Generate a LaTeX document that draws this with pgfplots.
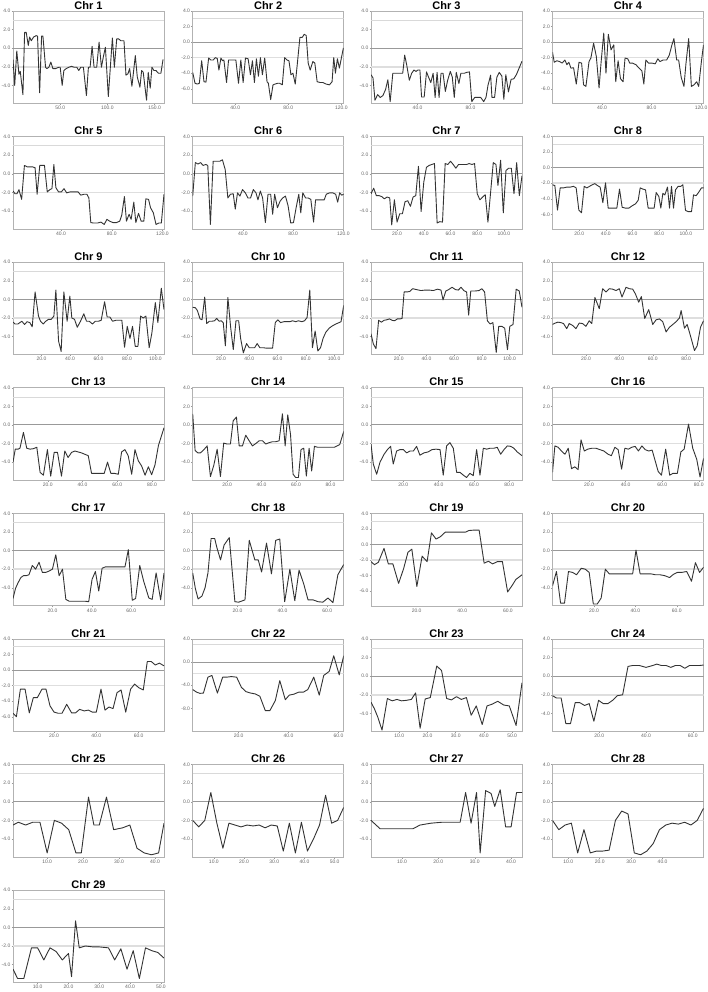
\documentclass[border=0pt]{standalone}
\usepackage{fontspec}
\setmainfont{Liberation Sans}
\usepackage{pgfplots}
\pgfplotsset{compat=1.18}

\pgfplotsset{
  chr/.style={
    anchor=north west, scale only axis, width=151pt, height=92.5pt,
    ymax=4,
    axis line style={black!30, line width=0.8pt},
    tick align=outside, tick pos=left, major tick length=1.5pt,
    tick style={black!40, line width=0.4pt},
    tick label style={font=\fontsize{5}{6}\selectfont, text=black!60, inner sep=1pt},
    /pgf/number format/fixed, /pgf/number format/fixed zerofill,
    /pgf/number format/precision=1, /pgf/number format/assume math mode=true,
    every axis title shift=0pt,
    title style={font=\bfseries\fontsize{11}{12}\selectfont, inner sep=0pt, yshift=1.5pt},
  },
  yA/.style={ymin=-5.95, ytick={-4,-2,0,2,4}},
  yB/.style={ymin=-7.9, ytick={-6,-4,-2,0,2,4}},
  yC/.style={ymin=-12, ytick={-8,-4,0,4}},
  dl/.style={black!80, line width=0.9pt, mark=none, line join=round},
}

% threshold lines at 3, 0 and -2
\newcommand{\reflines}{%
  \draw[black!15, line width=0.9pt] ({rel axis cs:0,0}|-{axis cs:0,3}) -- ({rel axis cs:1,0}|-{axis cs:0,3});
  \draw[black!40, line width=1pt] ({rel axis cs:0,0}|-{axis cs:0,0}) -- ({rel axis cs:1,0}|-{axis cs:0,0});
  \draw[black!13, line width=1.6pt] ({rel axis cs:0,0}|-{axis cs:0,-2}) -- ({rel axis cs:1,0}|-{axis cs:0,-2});
}

\begin{document}
\begin{tikzpicture}

% ---------- row 1
\begin{axis}[chr, yA, at={(13pt,-11pt)}, title={Chr 1}, xmin=0, xmax=160, xtick={50,100,150}]
\reflines
\addplot[dl] coordinates {(0,-1.2)(1.8,-4.0)(4,-0.3)(6.3,-2.8)(7.7,-2.5)(10.5,-5.0)(12.3,1.7)(14,1.7)(16.2,0.3)(17.6,1.2)(19.4,0.8)(21.8,1.2)(24.6,1.35)(26,1.3)(28.2,-4.8)(30.3,1.3)(31.7,1.3)(34.5,-2.05)(35.9,-2.2)(38,-2.05)(40.1,-1.5)(42.3,-2.2)(45,-2.2)(48.6,-2.05)(50,-2.05)(52.1,-4.0)(53.9,-2.4)(56.3,-2.2)(59.2,-2.05)(62,-1.95)(64.8,-2.05)(67.6,-2.05)(69.7,-2.4)(71.8,-2.05)(74.6,-2.05)(77.8,-5.1)(79.9,-2.05)(81.7,-2.05)(83.8,0.2)(85.9,-2.05)(88.7,-2.05)(91.2,0.65)(93.7,-2.05)(95.8,-0.9)(97.9,0.1)(101,-5.2)(105.3,1.1)(107.4,-2.05)(109.9,1.0)(112,1.0)(114.1,0.8)(117.6,0.8)(119.7,-2.9)(121.8,-2.75)(123.6,-2.2)(126,-4.1)(129.6,-0.8)(131.7,-3.1)(134.5,-4.2)(136.3,-2.4)(138,-2.6)(141.5,-5.6)(143.3,-2.6)(145.4,-4.3)(147.2,-2.05)(149.3,-2.4)(151.4,-2.4)(154.2,-2.7)(156.7,-2.7)(159,-1.2)};
\end{axis}

\begin{axis}[chr, yB, at={(192.7pt,-11pt)}, title={Chr 2}, xmin=8, xmax=121.75, xtick={40,80,120}]
\reflines
\addplot[dl] coordinates {(8,-3.9)(9.75,-5.3)(11.5,-5.4)(13,-5.3)(14.75,-2.4)(16.5,-5.1)(18,-5.15)(20,-2.05)(21.5,-2.3)(23.5,-2.3)(25,-2.0)(26.5,-2.1)(27.75,-3.6)(29.25,-2.05)(30.5,-2.4)(31.5,-2.3)(33.5,-5.2)(35,-2.3)(38.5,-2.3)(40.5,-2.3)(42.5,-5.3)(44.25,-2.3)(46,-5.2)(47.75,-2.05)(49.75,-2.15)(51.5,-4.2)(53,-2.4)(54.5,-5.2)(56,-2.15)(57.5,-4.4)(59,-2.0)(60.5,-4.2)(62.25,-2.05)(64,-5.1)(65,-5.3)(66.75,-7.4)(68.5,-5.5)(70,-5.4)(72,-5.3)(73.5,-5.3)(75.5,-5.5)(77.25,-2.0)(79,-2.3)(80.5,-2.4)(82,-4.2)(83.5,-4.0)(85.25,-5.4)(86.75,-2.9)(88.75,0.6)(90.5,0.6)(92,1.0)(93.5,0.85)(95,-2.7)(96.5,-3.6)(98.5,-2.5)(100,-2.7)(101.75,-5.1)(104,-5.2)(106,-5.2)(108.5,-5.4)(111,-5.5)(113,-5.1)(114.25,-2.0)(115.5,-4.0)(117,-2.15)(118.5,-3.35)(121.5,-0.75)};
\end{axis}

\begin{axis}[chr, yA, at={(371pt,-11pt)}, title={Chr 3}, xmin=4.75, xmax=119, xtick={40,80,120}]
\reflines
\addplot[dl] coordinates {(4.75,-2.85)(6.25,-3.2)(7.75,-5.6)(9.75,-5.0)(11.75,-5.3)(13.75,-5.1)(15.75,-4.45)(17.5,-3.4)(19.25,-5.75)(21.25,-2.7)(23.75,-2.7)(26.25,-2.7)(28.75,-2.7)(30.25,-0.75)(31.75,-1.8)(33.75,-3.45)(35.5,-2.7)(37.25,-2.35)(38.75,-2.5)(40.25,-2.35)(41.75,-2.35)(43,-5.25)(45,-5.25)(46.75,-2.55)(48.25,-3.1)(50,-3.7)(51.75,-2.7)(53.25,-5.3)(54.75,-2.6)(56.25,-5.3)(57.75,-2.7)(59.25,-2.7)(61,-4.65)(62.75,-3.45)(64.75,-2.5)(66.25,-3.1)(67.75,-5.3)(69.25,-2.6)(71.25,-3.8)(72.75,-2.7)(75.25,-2.7)(77.25,-2.6)(79.25,-2.55)(81,-5.75)(83.25,-5.3)(85.75,-5.3)(87.75,-5.3)(90,-5.75)(91.75,-5.3)(93.25,-4.0)(95.25,-2.9)(96.25,-5.3)(98.25,-5.3)(100,-3.1)(101.75,-2.6)(103.75,-3.0)(105.25,-5.5)(106.75,-2.85)(108.75,-4.7)(110.75,-3.35)(112.75,-3.3)(114.75,-2.85)(119,-1.4)};
\end{axis}

\begin{axis}[chr, yB, at={(552.5pt,-11pt)}, title={Chr 4}, xmin=0, xmax=122, xtick={40,80,120}]
\reflines
\addplot[dl] coordinates {(0,-1.3)(1.4,-2.6)(3.5,-2.4)(5.7,-2.5)(7.8,-2.7)(10,-2.3)(11.6,-2.9)(13.2,-2.6)(14.9,-3.35)(17,-3.3)(19.2,-5.4)(21.4,-2.6)(23.5,-2.7)(25.1,-5.5)(27,-5.7)(29.5,-2.5)(31,-2.05)(33.2,-0.15)(35.4,-1.85)(37.6,-5.9)(39.2,-2.7)(41.4,1.15)(43.2,-4.0)(45.1,1.0)(47.3,-1.0)(49.5,-0.35)(51.1,-5.1)(53,-2.4)(54.9,-4.7)(57,-5.1)(58.6,-2.05)(60.8,-2.15)(62.4,-2.7)(64.6,-2.7)(67.3,-2.9)(70,-3.35)(72.2,-3.7)(73.8,-5.4)(75.4,-2.3)(77.6,-2.7)(80.3,-2.7)(83,-2.8)(85.1,-2.15)(86.8,-2.5)(89.5,-2.3)(92.2,-2.3)(94.3,-1.7)(96.5,-0.35)(98.1,0.45)(100.3,-2.3)(101.9,-2.3)(104,-4.55)(106.2,-5.7)(107.8,-2.8)(110,0.45)(112.2,-5.7)(114.3,-5.5)(116.5,-5.1)(118.1,-5.7)(120.3,-2.5)(122,-0.35)};
\end{axis}

% ---------- row 2
\begin{axis}[chr, yA, at={(13pt,-136.6pt)}, title={Chr 5}, xmin=2.2, xmax=121.2, xtick={40,80,120}]
\reflines
\addplot[dl] coordinates {(2.2,-1.85)(3.8,-2.15)(5.3,-2.15)(6.9,-1.7)(9,-2.75)(11.2,0.9)(13.3,0.75)(15.4,0.75)(17.5,0.75)(19.6,0.65)(21.2,-2.2)(23.3,0.9)(25.4,0.9)(27,0.9)(29.2,-1.95)(31.3,-1.7)(32.9,-1.6)(34.4,1.0)(36,-1.5)(38.1,-1.95)(40.3,-1.95)(42.4,-1.6)(44.5,-2.05)(47.1,-1.95)(50.3,-1.95)(53.5,-1.95)(55.6,-2.3)(58.3,-2.2)(60.4,-2.2)(62,-2.6)(63.5,-5.25)(65.7,-5.3)(68.8,-5.3)(71.5,-5.2)(74.1,-5.45)(76.2,-4.9)(78.4,-5.1)(81,-5.25)(83.7,-5.25)(86.3,-5.1)(87.9,-4.45)(90,-2.45)(91.6,-5.1)(93.7,-4.35)(95.3,-4.9)(97.4,-3.05)(99,-5.25)(101.1,-4.25)(103.2,-5.1)(105.3,-5.1)(106.9,-2.7)(109,-2.75)(110.6,-3.65)(112.8,-4.2)(114.9,-5.45)(117,-5.3)(119.1,-5.3)(121.2,-2.2)};
\end{axis}

\begin{axis}[chr, yA, at={(192.7pt,-136.6pt)}, title={Chr 6}, xmin=0, xmax=120.3, xtick={40,80,120}]
\reflines
\addplot[dl] coordinates {(0,-2.4)(2.1,1.2)(4.2,1.05)(6.3,1.2)(8.3,0.9)(10.4,1.0)(12,0.9)(14.1,-5.45)(16.3,1.35)(18.9,1.35)(21.6,1.35)(23.7,1.5)(25.9,0.45)(28,-2.6)(30.1,-2.2)(32.3,-2.15)(33.9,-3.8)(35.7,-2.05)(37.6,-2.4)(39.7,-1.7)(41.9,-2.05)(44,-2.6)(46.1,-2.6)(48.3,-1.7)(50.4,-2.05)(52,-2.8)(53.9,-1.85)(55.7,-2.6)(57.9,-5.25)(60,-2.2)(62.1,-2.2)(63.7,-4.35)(65.3,-2.2)(67.5,-3.65)(69.6,-2.95)(71.7,-2.6)(73.9,-2.4)(76,-3.45)(78.1,-5.3)(80.3,-5.25)(82.4,-3.65)(84.5,-2.2)(86.1,-4.2)(87.7,-2.05)(89.9,-2.6)(92,-2.6)(94.1,-2.75)(96.3,-5.2)(97.9,-2.8)(100,-2.8)(102.7,-2.8)(104.8,-2.8)(106.4,-2.2)(109.1,-2.05)(111.7,-2.05)(113.9,-2.2)(115.5,-3.05)(117.1,-2.05)(118.7,-2.3)(120.3,-2.2)};
\end{axis}

\begin{axis}[chr, yA, at={(371pt,-136.6pt)}, title={Chr 7}, xmin=0.5, xmax=113.5, xtick={20,40,60,80,100}]
\reflines
\addplot[dl] coordinates {(0.5,-2.15)(2.5,-1.55)(4.5,-2.35)(6.5,-2.35)(8.5,-2.45)(10.5,-2.7)(12.5,-2.5)(14.5,-2.6)(16,-5.5)(18,-2.8)(20,-5.2)(22,-4.3)(24,-4.3)(26,-3.0)(28,-2.9)(30,-3.5)(32,-2.5)(34,-2.35)(36,0.8)(38,-4.05)(40,-0.9)(42,0.7)(44,0.9)(46,1.0)(48,1.1)(50,-5.3)(52,-5.15)(54,-5.2)(56,1.1)(58,1.0)(60,1.35)(62,1.0)(64,0.6)(66,1.0)(69,1.0)(72,1.0)(74,1.1)(76,1.0)(78,1.1)(80,-2.15)(82,-2.8)(84,-2.5)(86,-2.25)(88,-5.2)(90,-2.0)(92,1.2)(94,1.0)(95.5,-1.25)(97.5,1.45)(99.5,-4.2)(101.5,0.35)(103.5,0.6)(105.5,0.6)(107.5,-2.15)(109.5,1.2)(111.5,-2.35)(113.5,-0.2)};
\end{axis}

\begin{axis}[chr, yB, at={(552.5pt,-136.6pt)}, title={Chr 8}, xmin=0, xmax=113.25, xtick={20,40,60,80,100}]
\reflines
\addplot[dl] coordinates {(0,-2.2)(1.75,-2.3)(3.75,-5.45)(5.75,-2.6)(8.25,-2.6)(10.75,-2.5)(13.25,-2.5)(15.75,-2.4)(17.75,-2.6)(19.75,-5.45)(21.75,-5.8)(23.75,-2.4)(25.75,-2.6)(27.75,-2.4)(29.75,-2.2)(31.75,-2.05)(33.75,-2.3)(35.75,-2.5)(37.75,-4.5)(39.75,-1.95)(41.75,-5.2)(44.25,-5.2)(46.75,-5.2)(48.25,-5.2)(50.25,-2.75)(52.25,-5.1)(54.75,-5.2)(57.25,-5.2)(59.75,-4.9)(62.25,-4.65)(64.25,-4.2)(65.75,-2.6)(67.75,-2.75)(69.75,-2.85)(71.75,-5.2)(74.25,-5.2)(76.25,-5.2)(77.75,-3.2)(79.75,-3.7)(81.25,-5.2)(82.75,-3.3)(84.25,-3.5)(86.25,-2.5)(87.75,-5.2)(89.25,-2.4)(90.75,-5.2)(92.25,-2.85)(94.25,-2.4)(96.25,-2.4)(97.75,-2.2)(99.75,-5.5)(101.75,-5.65)(104.25,-5.65)(105.75,-3.5)(107.75,-3.6)(109.25,-3.25)(111.75,-2.6)(113.25,-2.6)};
\end{axis}

% ---------- row 3
\begin{axis}[chr, yA, at={(13pt,-262.2pt)}, title={Chr 9}, xmin=0, xmax=106, xtick={20,40,60,80,100}]
\reflines
\addplot[dl] coordinates {(0,-2.45)(1.5,-2.65)(3.4,-2.65)(4.8,-2.5)(6.2,-2.35)(8.1,-2.7)(9.9,-2.4)(11.8,-2.5)(13.5,-2.95)(15.5,0.8)(17.9,-1.8)(19.3,-2.35)(21.2,-2.65)(23,-2.35)(24.9,-2.15)(26.8,-2.15)(28.7,-1.8)(30.1,1.0)(32,-4.5)(33.8,-5.6)(35.7,0.8)(38,-2.35)(39.9,0.35)(41.3,-2.0)(43.2,-2.15)(45.1,-3.0)(47.4,-2.35)(49.7,-1.55)(51.6,-2.35)(53.5,-2.35)(55.8,-2.65)(57.7,-2.35)(60,-2.35)(61.9,-2.25)(64.3,-0.25)(66.1,-1.9)(68,-1.9)(69.9,-2.35)(72.2,-2.25)(74.6,-2.25)(76.4,-2.25)(78.3,-5.15)(80.2,-2.9)(82.1,-4.2)(83.9,-2.9)(85.8,-5.05)(87.7,-5.05)(89.6,-1.8)(91.4,-2.0)(93.3,-1.8)(95.6,-5.2)(97.5,-3.6)(99.9,-0.35)(101.7,-2.5)(104.1,1.2)(106,-1.1)};
\end{axis}

\begin{axis}[chr, yA, at={(192.7pt,-262.2pt)}, title={Chr 10}, xmin=0, xmax=106.8, xtick={20,40,60,80,100}]
\reflines
\addplot[dl] coordinates {(0,-0.85)(1.9,-0.9)(3.3,-1.2)(5.2,-2.1)(6.6,-2.2)(8.5,0.25)(9.9,-2.6)(11.8,-2.35)(13.6,-2.35)(15.5,-2.3)(16.9,-2.05)(18.8,-2.35)(20.2,-2.3)(21.6,-2.5)(23.1,-5.0)(24.9,0.2)(26.8,-2.95)(28.7,-5.4)(30.6,-2.3)(32.5,-2.3)(33.9,-4.2)(35.8,-5.75)(38.1,-4.75)(40,-5.2)(41.9,-5.2)(43.8,-5.2)(45.6,-4.75)(47.5,-5.2)(49.9,-5.2)(52.2,-5.25)(54.6,-5.25)(56.5,-5.25)(58.4,-2.5)(60.2,-2.2)(62.1,-2.5)(64.5,-2.4)(66.4,-2.4)(68.7,-2.4)(70.6,-2.3)(72.9,-2.4)(74.8,-2.3)(77.2,-2.4)(79.1,-2.3)(80.9,-1.95)(82.8,1.0)(84.7,-5.2)(86.6,-3.4)(88.5,-5.55)(90.4,-5.2)(92.2,-4.2)(94.1,-3.55)(96.5,-3.1)(98.8,-2.85)(101.2,-2.65)(103.5,-2.5)(104.9,-2.4)(106.8,-0.65)};
\end{axis}

\begin{axis}[chr, yA, at={(371pt,-262.2pt)}, title={Chr 11}, xmin=0, xmax=109, xtick={20,40,60,80,100}]
\reflines
\addplot[dl] coordinates {(0,-3.7)(1.7,-4.8)(3.6,-5.3)(5.5,-2.25)(7.5,-2.45)(9.4,-2.25)(11.3,-2.2)(13.3,-2.1)(15.2,-2.25)(17.1,-2.3)(19,-2.1)(21,-2.1)(22.4,-2.05)(23.9,0.8)(26,0.8)(28,0.85)(30,1.15)(33,1.05)(36,0.95)(39,1.0)(42,1.0)(45,0.95)(48,1.1)(50.5,1.0)(52,-0.05)(54,0.9)(56,1.05)(58.5,1.3)(61,1.05)(63,1.0)(65,1.3)(67,0.95)(69,0.8)(70.5,-1.7)(72,0.9)(75,0.9)(78,0.95)(80,1.15)(82,0.8)(84,-2.3)(86,-2.65)(88,-2.5)(90.4,-5.7)(92.2,-2.9)(94.5,-2.9)(96.5,-3.1)(98.5,-5.4)(100.2,-2.9)(102.5,-2.7)(104.8,1.1)(107,0.9)(109,-0.85)};
\end{axis}

\begin{axis}[chr, yA, at={(552.5pt,-262.2pt)}, title={Chr 12}, xmin=0, xmax=90.4, xtick={20,40,60,80}]
\reflines
\addplot[dl] coordinates {(0,-2.7)(1.6,-2.55)(3.2,-2.45)(5,-2.5)(6.6,-2.6)(8.5,-3.15)(10,-2.6)(12,-2.8)(14,-3.15)(16,-2.55)(18,-2.6)(20,-2.9)(22,-2.3)(23.5,-2.6)(25.4,0.2)(28,-1.0)(30,1.15)(32,0.8)(34,1.15)(36,1.1)(38,0.95)(40,1.15)(41.6,0.25)(44,1.3)(46,1.15)(48,1.1)(49.6,0.6)(51.6,-0.3)(53.2,0.3)(55.2,-2.05)(57.6,-1.1)(60,-2.7)(62,-2.2)(64,-2.1)(66,-2.4)(68,-3.5)(70,-3.0)(72,-2.7)(74,-2.4)(76,-2.0)(77,-1.2)(79,-3.1)(80.6,-2.7)(82.4,-3.8)(85,-5.5)(86.6,-5.0)(88.6,-3.0)(90.4,-2.3)};
\end{axis}

% ---------- row 4
\begin{axis}[chr, yA, at={(13pt,-387.8pt)}, title={Chr 13}, xmin=0, xmax=86.9, xtick={20,40,60,80}]
\reflines
\addplot[dl] coordinates {(0,-4.0)(1.3,-2.6)(2.9,-2.6)(4,-2.5)(6,-0.8)(7.9,-2.5)(9.8,-2.6)(11.7,-2.55)(13.7,-2.4)(15.6,-5.1)(17.5,-5.4)(19.8,-2.65)(21.7,-5.5)(23.7,-2.95)(25.6,-2.95)(27.9,-5.5)(29.8,-2.8)(31.7,-3.5)(33.7,-2.95)(35.6,-2.8)(37.5,-2.9)(39.4,-3.0)(41.3,-3.15)(43.3,-3.3)(45.2,-5.2)(47.5,-5.2)(50.2,-5.2)(52.5,-5.2)(54.4,-4.0)(56.3,-5.2)(58.3,-5.2)(60.6,-5.3)(62.5,-2.9)(64.4,-2.65)(66.3,-3.3)(68.3,-5.3)(70.2,-2.65)(72.1,-3.85)(74,-4.4)(76,-5.4)(77.9,-4.5)(79.8,-5.35)(81.7,-4.3)(83.7,-2.2)(86.9,-0.3)};
\end{axis}

\begin{axis}[chr, yA, at={(192.7pt,-387.8pt)}, title={Chr 14}, xmin=0, xmax=87.7, xtick={20,40,60,80}]
\reflines
\addplot[dl] coordinates {(0,1.2)(1.4,-2.75)(3,-3.0)(4.5,-3.0)(6.5,-2.65)(8.4,-2.25)(10.3,-5.55)(12.3,-4.3)(14.2,-2.6)(16.1,-5.55)(18,-1.95)(20,-2.05)(21.9,-2.05)(23.5,0.45)(25.4,0.85)(27,-2.25)(28.9,-2.25)(30.8,-1.1)(32.8,-1.7)(34.7,-2.25)(36.6,-2.0)(38.6,-1.7)(40.5,-1.7)(42.4,-2.05)(44.4,-1.9)(46.3,-1.8)(48.2,-1.8)(50.2,-1.7)(52.1,1.2)(53.7,-2.25)(55.2,1.1)(56.8,-1.0)(58.3,-5.3)(59.8,-5.65)(61.4,-5.65)(62.9,-2.65)(64.5,-2.5)(66,-5.5)(67.6,-2.5)(69.1,-4.95)(70.7,-2.3)(72.6,-2.4)(74.5,-2.4)(76.5,-2.4)(78.4,-2.4)(80.3,-2.4)(82.3,-2.4)(85.4,-2.1)(87.7,-0.7)};
\end{axis}

\begin{axis}[chr, yA, at={(371pt,-387.8pt)}, title={Chr 15}, xmin=1.7, xmax=87.2, xtick={20,40,60,80}]
\reflines
\addplot[dl] coordinates {(1.7,-2.05)(3,-4.2)(4.9,-5.3)(6.8,-4.0)(9.1,-3.15)(11,-2.65)(12.8,-2.3)(14.3,-4.2)(16.2,-2.8)(18.1,-2.65)(20,-2.65)(21.9,-3.0)(23.8,-2.8)(25.7,-2.8)(27.5,-2.3)(29.4,-3.25)(31.7,-3.0)(34,-2.9)(36.2,-2.65)(38.5,-2.6)(40.8,-2.65)(42.6,-5.4)(44.5,-2.25)(46.4,-1.9)(48.3,-2.5)(50.2,-5.1)(52.1,-5.1)(54,-5.4)(55.8,-5.65)(57.7,-5.2)(59.6,-5.45)(61.5,-2.65)(63.4,-5.4)(65.3,-2.5)(67.2,-2.6)(69.1,-2.5)(71.3,-2.5)(73.2,-2.4)(75.1,-3.15)(77,-2.65)(78.9,-2.25)(80.8,-2.3)(82.6,-2.5)(84.5,-2.9)(87.2,-3.3)};
\end{axis}

\begin{axis}[chr, yA, at={(552.5pt,-387.8pt)}, title={Chr 16}, xmin=0, xmax=82.6, xtick={20,40,60,80}]
\reflines
\addplot[dl] coordinates {(0,-5.1)(1.3,-2.25)(3.1,-2.4)(4.9,-2.8)(6.8,-3.15)(8.6,-2.5)(10.4,-4.7)(12.2,-4.5)(14,-4.8)(15.6,-1.6)(17.4,-2.8)(19.3,-2.6)(21.5,-2.5)(23.7,-2.5)(25.9,-2.65)(28.1,-2.8)(30.4,-3.15)(32.2,-3.3)(34.1,-2.4)(35.9,-2.65)(37.8,-4.75)(39.6,-2.5)(41.5,-2.6)(43.3,-2.4)(45.2,-2.3)(47,-2.8)(48.9,-2.25)(50.7,-2.65)(52.6,-2.8)(54.5,-2.7)(57.8,-5.0)(59.6,-5.4)(61.9,-2.6)(64.1,-5.4)(65.9,-5.2)(68.3,-5.2)(70.2,-2.9)(72,-2.6)(74.4,0.1)(76.7,-2.5)(78.9,-3.7)(80.7,-5.6)(82.6,-3.6)};
\end{axis}

% ---------- row 5
\begin{axis}[chr, yA, at={(13pt,-513.4pt)}, title={Chr 17}, xmin=0, xmax=76.6, xtick={20,40,60}]
\reflines
\addplot[dl] coordinates {(0,-5.15)(1.3,-4.05)(2.6,-3.45)(4,-2.9)(5.3,-2.7)(6.7,-2.7)(8.1,-2.6)(9.8,-1.6)(11.5,-2.0)(13.2,-1.25)(14.9,-2.35)(16.6,-2.35)(18.3,-2.2)(20,-2.0)(21.7,-0.45)(23.4,-2.7)(25.1,-2.0)(26.8,-5.25)(28.5,-5.45)(30.6,-5.45)(32.6,-5.45)(34.7,-5.45)(36.7,-5.45)(38.4,-5.5)(40.1,-3.1)(41.8,-2.25)(43.5,-4.35)(45.2,-1.9)(46.9,-1.75)(48.6,-1.75)(51,-1.75)(53.4,-1.75)(55.1,-1.75)(56.8,-1.75)(58.5,0.1)(60.5,-5.35)(62.2,-5.15)(64.3,-1.6)(66.3,-3.3)(68.9,-5.1)(70.6,-5.25)(72.6,-2.4)(74.9,-5.3)(76.6,-2.4)};
\end{axis}

\begin{axis}[chr, yA, at={(192.7pt,-513.4pt)}, title={Chr 18}, xmin=0, xmax=67.3, xtick={20,40,60}]
\reflines
\addplot[dl] coordinates {(0,-2.4)(1.2,-4.1)(2.4,-5.2)(4.1,-4.9)(5.5,-4.0)(6.8,-2.4)(8.2,1.3)(9.8,1.3)(10.8,0.3)(12.4,-1.0)(14,0.6)(16.3,1.4)(18.8,-5.5)(20.5,-5.55)(23.3,-5.3)(25.2,1.1)(27.7,-1.0)(29.2,-1.0)(30.7,-2.3)(32.9,0.8)(35.1,-2.5)(37,1.1)(38.8,1.25)(41,-5.5)(43.3,-2.0)(45.5,-5.4)(47.4,-2.1)(49.5,-3.6)(51.4,-5.3)(53.6,-5.3)(55.9,-5.5)(58,-5.55)(60.3,-5.1)(62.5,-5.6)(64.7,-2.6)(67.3,-1.5)};
\end{axis}

\begin{axis}[chr, yB, at={(371pt,-513.4pt)}, title={Chr 19}, xmin=0, xmax=66.2, xtick={20,40,60}]
\reflines
\addplot[dl] coordinates {(0,-2.2)(1.5,-2.6)(3.2,-2.3)(5.7,-0.5)(7.6,-2.5)(9.6,-2.5)(12.1,-5.0)(14.3,-3.1)(16.2,-1.0)(17.9,-0.6)(20.1,-5.4)(22.4,-1.5)(24.6,-2.2)(26.5,1.5)(28.5,0.7)(30.4,1.0)(32.6,1.6)(35.6,1.6)(38.5,1.6)(41.5,1.6)(42.9,1.8)(45.1,1.85)(47.4,1.85)(49.6,-2.4)(51.5,-2.15)(53.3,-2.5)(55.4,-2.2)(57.6,-2.2)(59.9,-6.1)(61.8,-5.3)(63.5,-4.5)(66.2,-3.9)};
\end{axis}

\begin{axis}[chr, yA, at={(552.5pt,-513.4pt)}, title={Chr 20}, xmin=0, xmax=72.9, xtick={20,40,60}]
\reflines
\addplot[dl] coordinates {(0,-3.8)(1.9,-2.25)(3.9,-5.65)(5.8,-5.65)(7.7,-2.25)(9.7,-2.35)(11.6,-2.6)(13.9,-1.9)(15.8,-2.0)(17.7,-2.35)(19.7,-5.75)(21.6,-5.75)(23.5,-5.1)(25.5,-2.0)(27.4,-2.5)(29.7,-2.5)(32.3,-2.5)(34.8,-2.5)(37.4,-2.5)(38.7,-2.5)(40.3,0.05)(42.3,-2.5)(44.8,-2.5)(47.4,-2.5)(49.7,-2.6)(51.9,-2.6)(54.2,-2.7)(56.5,-2.9)(58.4,-2.55)(60.3,-2.35)(62.3,-2.35)(64.8,-2.25)(67.1,-3.3)(69,-1.3)(71,-2.35)(72.9,-1.8)};
\end{axis}

% ---------- row 6
\begin{axis}[chr, yB, at={(13pt,-639pt)}, title={Chr 21}, xmin=0.6, xmax=72, xtick={20,40,60}]
\reflines
\addplot[dl] coordinates {(0.6,-5.55)(2.2,-6.0)(4.1,-2.45)(6.3,-2.45)(8.3,-5.5)(10.2,-3.55)(12.1,-3.55)(14.3,-2.45)(16.2,-2.45)(18.1,-4.6)(20,-5.4)(21.9,-5.55)(23.8,-5.55)(26,-4.4)(28.3,-5.5)(30.2,-5.5)(32.1,-5.05)(34.3,-5.25)(36.2,-5.15)(38.1,-5.4)(40,-5.4)(42.2,-2.45)(44.1,-5.15)(46,-4.75)(47.9,-4.95)(49.8,-2.9)(51.7,-2.55)(53.9,-5.4)(56.2,-2.45)(58.1,-1.8)(60,-2.25)(62.2,-2.55)(64.1,1.1)(66,1.1)(67.9,0.65)(69.8,0.9)(72,0.55)};
\end{axis}

\begin{axis}[chr, yC, at={(192.7pt,-639pt)}, title={Chr 22}, xmin=1.6, xmax=62.1, xtick={20,40,60}]
\reflines
\addplot[dl] coordinates {(1.6,-4.75)(3.2,-5.2)(4.5,-5.4)(5.9,-5.35)(7.7,-2.6)(9.3,-2.3)(11.5,-5.35)(13.6,-2.6)(15.2,-2.6)(17.1,-2.5)(19.2,-2.6)(21.1,-4.35)(22.9,-5.1)(24.8,-5.35)(26.7,-5.5)(28.5,-5.9)(30.7,-8.4)(32.5,-8.4)(34.7,-6.65)(36.5,-3.2)(38.7,-6.5)(40.3,-5.7)(42.1,-5.55)(44,-5.2)(45.9,-5.2)(47.7,-4.75)(50.1,-2.6)(52.3,-5.7)(54.1,-2.3)(56.3,-1.6)(58.1,1.1)(60.3,-2.2)(62.1,1.1)};
\end{axis}

\begin{axis}[chr, yA, at={(371pt,-639pt)}, title={Chr 23}, xmin=0, xmax=53.5, xtick={10,20,30,40,50}]
\reflines
\addplot[dl] coordinates {(0,-2.8)(1.2,-3.5)(2.4,-4.4)(3.9,-5.8)(5.8,-2.4)(7.5,-2.65)(9.2,-2.5)(10.8,-2.65)(12.5,-2.6)(14.3,-2.5)(15.8,-1.8)(17.4,-5.6)(19.2,-2.45)(21,-2.3)(23.3,1.1)(25,0.6)(26.8,-2.4)(28.5,-2.55)(30.3,-2.2)(32,-2.5)(33.8,-2.3)(35.5,-4.2)(37.3,-3.2)(39.4,-5.2)(41.1,-3.2)(43,-3.0)(44.9,-2.7)(47,-3.1)(49,-3.2)(51.4,-5.3)(53.5,-0.7)};
\end{axis}

\begin{axis}[chr, yA, at={(552.5pt,-639pt)}, title={Chr 24}, xmin=0, xmax=64.6, xtick={20,40,60}]
\reflines
\addplot[dl] coordinates {(0,-2.1)(1.7,-2.35)(3.7,-2.35)(5.7,-5.1)(7.7,-5.1)(9.7,-2.85)(11.7,-2.85)(13.7,-3.15)(15.7,-2.95)(17.7,-4.85)(19.7,-2.6)(21.7,-2.95)(23.7,-2.95)(25.7,-2.6)(27.7,-2.1)(30,-2.0)(32.3,1.05)(34.3,1.15)(37.1,1.15)(40,0.95)(42.9,1.15)(44.6,1.3)(46.6,1.15)(48.6,1.15)(50.6,0.95)(52.6,1.15)(54.6,1.15)(56.6,0.85)(58.6,1.15)(60.6,1.15)(62.9,1.15)(64.6,1.2)};
\end{axis}

% ---------- row 7
\begin{axis}[chr, yA, at={(13pt,-764.6pt)}, title={Chr 25}, xmin=0.5, xmax=42.5, xtick={10,20,30,40}]
\reflines
\addplot[dl] coordinates {(0.5,-2.5)(2,-2.2)(4,-2.5)(6,-2.2)(8,-2.2)(10,-5.5)(12,-2.0)(14,-2.3)(16,-3.0)(18,-5.5)(19.5,-5.5)(21.5,0.5)(23,-2.5)(24.5,-2.5)(26.5,0.5)(28.5,-3.0)(31,-2.8)(33,-2.5)(35,-5.0)(37,-5.5)(39,-5.7)(41,-5.5)(42.5,-2.3)};
\end{axis}

\begin{axis}[chr, yA, at={(192.7pt,-764.6pt)}, title={Chr 26}, xmin=3, xmax=53, xtick={10,20,30,40,50}]
\reflines
\addplot[dl] coordinates {(3,-2.0)(5,-2.7)(7,-2.0)(9,1.0)(11,-2.3)(13,-5.0)(15,-2.3)(17,-2.5)(19,-2.7)(21,-2.5)(23,-2.6)(25,-2.5)(27,-2.8)(29,-2.5)(31,-2.6)(33,-5.3)(35,-2.3)(37,-5.5)(39,-2.2)(41,-5.3)(43,-4.0)(45,-2.5)(47,0.7)(49,-2.3)(51,-2.0)(53,-0.6)};
\end{axis}

\begin{axis}[chr, yA, at={(371pt,-764.6pt)}, title={Chr 27}, xmin=1.5, xmax=43, xtick={10,20,30,40}]
\reflines
\addplot[dl] coordinates {(1.5,-2.0)(4,-2.9)(7,-2.9)(10,-2.9)(13,-2.9)(15,-2.5)(18,-2.3)(21,-2.2)(24,-2.2)(26,-2.2)(27.5,1.0)(29,-2.3)(30.5,1.0)(31.5,-5.5)(33,1.2)(34.5,0.9)(35.5,-0.5)(37,1.3)(38.5,-2.7)(40,-2.7)(41.5,1.0)(43,1.0)};
\end{axis}

\begin{axis}[chr, yA, at={(552.5pt,-764.6pt)}, title={Chr 28}, xmin=5, xmax=53, xtick={10,20,30,40}]
\reflines
\addplot[dl] coordinates {(5,-2.0)(7,-3.0)(9,-2.5)(11,-2.3)(13,-5.5)(15,-3.0)(17,-5.5)(19,-5.3)(21,-5.3)(23,-5.2)(25,-2.0)(27,-1.0)(29,-1.3)(31,-5.5)(33,-5.7)(35,-5.3)(37,-4.5)(39,-3.0)(41,-2.5)(43,-2.3)(45,-2.4)(47,-2.2)(49,-2.5)(51,-2.0)(53,-0.7)};
\end{axis}

% ---------- row 8
\begin{axis}[chr, yA, at={(13pt,-890.2pt)}, title={Chr 29}, xmin=2, xmax=51, xtick={10,20,30,40,50}]
\reflines
\addplot[dl] coordinates {(2,-4.5)(3.5,-5.5)(5.5,-5.5)(8,-2.2)(10,-2.2)(12,-3.5)(14,-2.2)(16,-2.6)(18,-3.5)(20,-2.8)(21,-5.3)(22.3,0.7)(23.5,-2.2)(25.5,-2.0)(28,-2.1)(30,-2.1)(33,-2.2)(35,-3.5)(37,-2.3)(39,-4.5)(41,-2.5)(43,-5.5)(45,-2.2)(47,-2.5)(49,-2.7)(51,-3.3)};
\end{axis}

\pgfresetboundingbox
\path[use as bounding box] (0,0) rectangle (707pt,-992pt);
\end{tikzpicture}
\end{document}
